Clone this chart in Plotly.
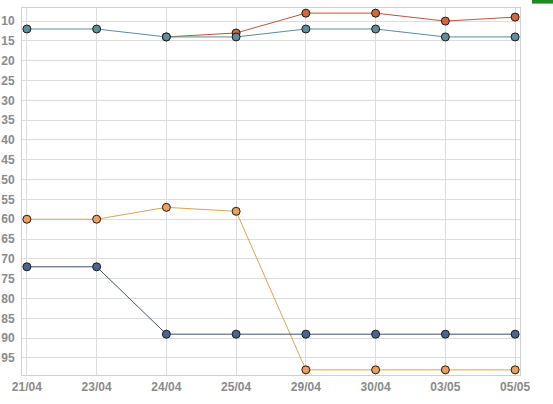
import plotly.graph_objects as go

dates = ['21/04', '23/04', '24/04', '25/04', '29/04', '30/04', '03/05', '05/05']

teal = [12, 12, 14, 14, 12, 12, 14, 14]
red = [None, None, 14, 13, 8, 8, 10, 9]
orange = [60, 60, 57, 58, 98, 98, 98, 98]
navy = [72, 72, 89, 89, 89, 89, 89, 89]

y_ticks = list(range(10, 100, 5))

series = [
    (orange, '#d9a451', '#eba05f'),
    (navy, '#3d5273', '#4c6590'),
    (red, '#b4573a', '#d9643c'),
    (teal, '#5a8c97', '#5e8f99'),
]

tick_font = dict(size=12, color='#8a8a8a', family='Liberation Sans, Arial', weight='bold')

fig = go.Figure()
for vals, line_col, marker_col in series:
    fig.add_trace(go.Scatter(
        x=dates, y=vals, mode='lines+markers',
        line=dict(color=line_col, width=1),
        marker=dict(size=8, color=marker_col, line=dict(color='#1a1a1a', width=1)),
        showlegend=False,
    ))

fig.update_layout(
    width=553, height=404,
    margin=dict(l=22, r=33, t=8, b=29),
    paper_bgcolor='white', plot_bgcolor='white',
    font=dict(family='Liberation Sans, Arial', size=12, color='#888888'),
    shapes=[dict(type='rect', xref='paper', yref='paper',
                 x0=1.024, x1=1.07, y0=1.012, y1=1.03,
                 fillcolor='#1f8a1f', line=dict(width=0))],
)
fig.update_xaxes(
    type='category', range=[-0.07, 7.07], automargin=False,
    showgrid=True, gridcolor='#dcdcdc', gridwidth=1,
    showline=True, linecolor='#d0d0d0', mirror=True,
    tickfont=tick_font, ticks='', ticklabelstandoff=1,
)
fig.update_yaxes(
    range=[99.3, 6.7], tickvals=y_ticks, automargin=False,
    showgrid=True, gridcolor='#dcdcdc', gridwidth=1,
    showline=True, linecolor='#d0d0d0', mirror=True,
    zeroline=False, ticks='', ticklabelstandoff=4,
    tickfont=tick_font,
)

# drop the page's default body margin so the figure sits at the window corner
fig.write_html('out.html', config={'displayModeBar': False},
               post_script="document.body.style.margin='0';document.body.style.overflow='hidden';")
